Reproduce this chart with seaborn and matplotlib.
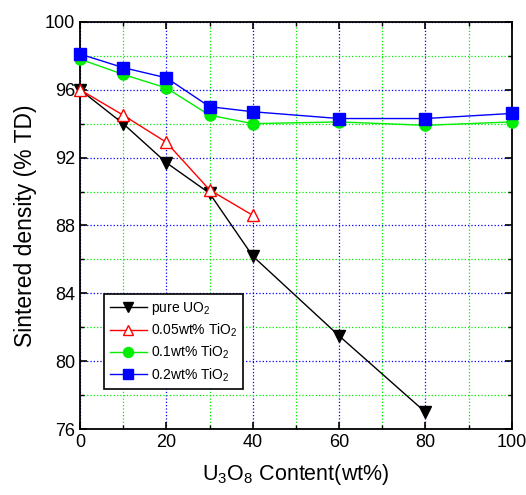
import seaborn as sns
import matplotlib.pyplot as plt
import pandas as pd
from matplotlib.ticker import MultipleLocator

series = ['pure UO$_2$', '0.05wt% TiO$_2$', '0.1wt% TiO$_2$', '0.2wt% TiO$_2$']
x_pure = [0, 10, 20, 30, 40, 60, 80]
y_pure = [96.0, 94.0, 91.7, 89.9, 86.2, 81.5, 77.0]
x_005 = [0, 10, 20, 30, 40]
y_005 = [96.0, 94.5, 92.9, 90.1, 88.6]
x_01 = [0, 10, 20, 30, 40, 60, 80, 100]
y_01 = [97.8, 96.9, 96.1, 94.5, 94.0, 94.1, 93.9, 94.1]
x_02 = [0, 10, 20, 30, 40, 60, 80, 100]
y_02 = [98.1, 97.3, 96.7, 95.0, 94.7, 94.3, 94.3, 94.6]

frames = []
for name, xs, ys in zip(series, [x_pure, x_005, x_01, x_02], [y_pure, y_005, y_01, y_02]):
    frames.append(pd.DataFrame({'x': xs, 'y': ys, 'series': name}))
df = pd.concat(frames, ignore_index=True)

plt.rcParams['font.family'] = ['Liberation Sans', 'DejaVu Sans']
plt.rcParams['mathtext.fontset'] = 'custom'
plt.rcParams['mathtext.rm'] = 'Liberation Sans'
plt.rcParams['mathtext.it'] = 'Liberation Sans'

fig = plt.figure(figsize=(5.26, 4.95), dpi=100)
ax = fig.add_axes([0.152, 0.133, 0.821, 0.823])

colors = ['black', 'red', '#00ee00', 'blue']
markers = ['v', '^', 'o', 's']
for name, c, m in zip(series, colors, markers):
    sub = df[df['series'] == name]
    face = 'white' if m == '^' else c
    sns.lineplot(data=sub, x='x', y='y', ax=ax, color=c, marker=m, markersize=8,
                 markerfacecolor=face, markeredgecolor=c, markeredgewidth=1.0,
                 linewidth=1.0, label=name, zorder=3, clip_on=False)

ax.set_xlim(0, 100)
ax.set_ylim(76, 100)
ax.xaxis.set_major_locator(MultipleLocator(20))
ax.xaxis.set_minor_locator(MultipleLocator(10))
ax.yaxis.set_major_locator(MultipleLocator(4))
ax.yaxis.set_minor_locator(MultipleLocator(2))
ax.grid(which='major', color='blue', linestyle=':', linewidth=0.9)
ax.grid(which='minor', color='#00ee00', linestyle=':', linewidth=0.9)
ax.set_axisbelow(True)
ax.tick_params(which='both', direction='in', top=True, right=True, labelsize=13)
ax.tick_params(which='major', length=5, width=1.2)
ax.tick_params(which='minor', length=3, width=1.0)
for s in ax.spines.values():
    s.set_linewidth(1.3)

ax.set_xlabel('U$_3$O$_8$ Content(wt%)', fontsize=15.5, labelpad=8)
ax.set_ylabel('Sintered density (% TD)', fontsize=16.5, labelpad=6)

leg = ax.legend(loc='lower left', bbox_to_anchor=(0.056, 0.098), borderaxespad=0,
                fontsize=10, frameon=True, fancybox=False, edgecolor='black',
                handlelength=2.7, borderpad=0.4, labelspacing=0.35, handletextpad=0.3,
                markerscale=0.9)
leg.get_frame().set_linewidth(1.2)
leg.get_frame().set_alpha(1)

fig.savefig('out.png', dpi=100)
